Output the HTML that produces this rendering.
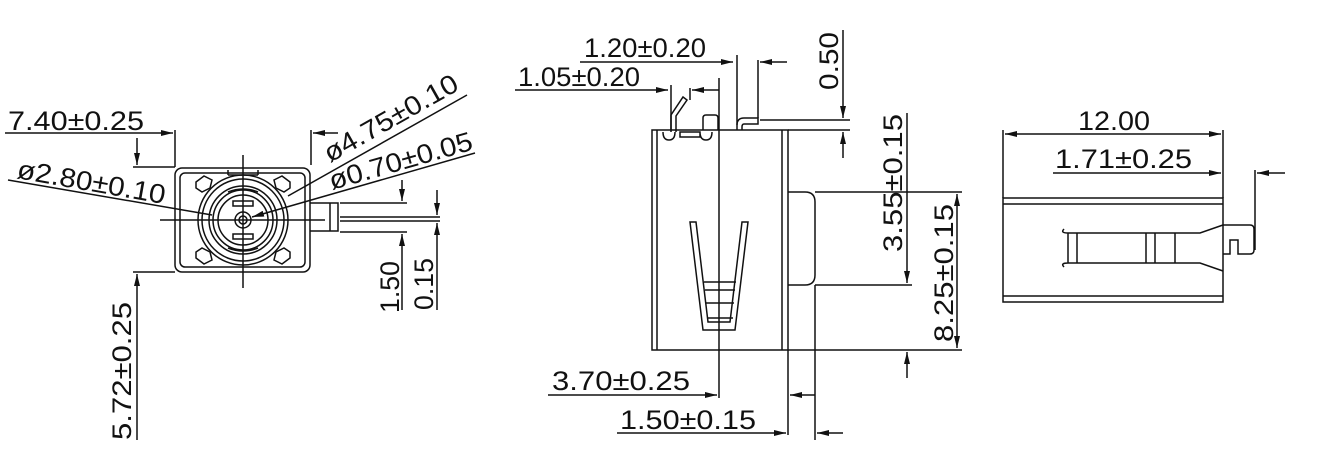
<!DOCTYPE html>
<html><head><meta charset="utf-8"><style>
html,body{margin:0;padding:0;background:#fff;}
svg{display:block}
text{font-family:"Liberation Sans",sans-serif;font-size:27px;fill:#111;}
</style></head><body>
<svg width="1320" height="464" viewBox="0 0 1320 464" xmlns="http://www.w3.org/2000/svg">
<defs>
<marker id="a" viewBox="0 0 12 6" refX="12" refY="3" markerWidth="12" markerHeight="6" markerUnits="userSpaceOnUse" orient="auto"><path d="M0,0L12,3L0,6z" fill="#111"/></marker>
<marker id="b" viewBox="0 0 12 6" refX="0" refY="3" markerWidth="12" markerHeight="6" markerUnits="userSpaceOnUse" orient="auto"><path d="M12,0L0,3L12,6z" fill="#111"/></marker>
</defs>
<g stroke="#111" stroke-width="1.5" fill="none">
<!-- LEFT VIEW -->
<rect x="175" y="168" width="135" height="104" rx="7"/>
<rect x="180" y="173" width="125" height="94" rx="5"/>
<path d="M310,203H338V231H310M330,203V231"/>
<circle cx="243" cy="220" r="45"/>
<circle cx="243" cy="220" r="41"/>
<circle cx="243" cy="220" r="34"/>
<circle cx="243" cy="220" r="30"/>
<circle cx="243" cy="220" r="25"/>
<circle cx="243" cy="220" r="8"/>
<circle cx="243" cy="220" r="4"/>
<path d="M228,175V170M258,175V170M228,175H258"/>
<rect x="233" y="201" width="20" height="5"/>
<rect x="233" y="234" width="20" height="5"/>
<path d="M228,192q15,-6 30,0M228,248q15,6 30,0"/>
<path d="M196,182l8,-6l8,4l-2,8l-8,4l-6,-4z"/>
<path d="M290,182l-8,-6l-8,4l2,8l8,4l6,-4z"/>
<path d="M196,258l8,6l8,-4l-2,-8l-8,-4l-6,4z"/>
<path d="M290,258l-8,6l-8,-4l2,-8l8,-4l6,4z"/>
<path d="M160,220H325M243,155V288"/>
<path d="M340,217H440M340,221H440M340,203H407M340,232H407"/>
<path d="M5,133H173" marker-end="url(#a)"/>
<path d="M175,130V167M311,130V165"/>
<path d="M338,133H313" marker-end="url(#a)"/>
<path d="M137,138V165" marker-end="url(#a)"/>
<path d="M133,167H175M133,272H175"/>
<path d="M137,440V274" marker-end="url(#a)"/>
<path d="M402,180V201" marker-end="url(#a)"/>
<path d="M402,310V234" marker-end="url(#a)"/>
<path d="M437,190V215" marker-end="url(#a)"/>
<path d="M437,310V223" marker-end="url(#a)"/>
<path d="M467,95L288,196"/>
<path d="M475,153L252,217" marker-end="url(#a)"/>
<path d="M8,180L212,215"/>
<!-- MIDDLE VIEW -->
<rect x="652" y="130" width="136" height="220"/>
<path d="M657,130V350M782,130V350"/>
<path d="M788,192H805q10,0 10,10V275q0,10 -10,10H788"/>
<path d="M719,78V398"/>
<path d="M690,222l6,0l12,100l22,0l12,-100l6,0l-13,108l-32,0z"/>
<path d="M704,282H736M705,290H735M706,303H734M707,318H733"/>
<path d="M671,132V115l12,-18l4,3l-11,16V132"/>
<path d="M703,130V118q0,-3 3,-3h9q3,0 3,3V130"/>
<path d="M663,132q0,8 6,8q6,0 6,-8M700,132q0,8 6,8q6,0 6,-8M680,132H700V137H680z"/>
<path d="M737,130V125q0,-7 7,-7H758V124H744q-2,0 -2,3V130"/>
<path d="M580,62H733" marker-end="url(#a)"/>
<path d="M737,55V125M758,60V118"/>
<path d="M787,62H760" marker-end="url(#a)"/>
<path d="M515,90H668" marker-end="url(#a)"/>
<path d="M671,85V130M690,88V100"/>
<path d="M719,90H692" marker-end="url(#a)"/>
<path d="M843,30V118" marker-end="url(#a)"/>
<path d="M760,120H850M788,130H850"/>
<path d="M843,158V132" marker-end="url(#a)"/>
<path d="M907,113V283" marker-end="url(#a)"/>
<path d="M815,285H912M815,192H962M788,350H962"/>
<path d="M957,194V348" marker-start="url(#b)" marker-end="url(#a)"/>
<path d="M907,378V352" marker-end="url(#a)"/>
<path d="M548,395H717" marker-end="url(#a)"/>
<path d="M617,433H786" marker-end="url(#a)"/>
<path d="M788,350V435M815,285V440"/>
<path d="M815,395H790" marker-end="url(#a)"/>
<path d="M843,433H817" marker-end="url(#a)"/>
<!-- RIGHT VIEW -->
<rect x="1003" y="198" width="220" height="104"/>
<path d="M1003,204H1223M1003,296H1223"/>
<path d="M1068,233H1200l23,-8M1068,263H1200l23,8M1068,233q-8,0 -4,-4M1068,263q-8,0 -4,4M1068,233V263M1077,233V263M1146,233V263M1155,233V263M1175,233V263"/>
<path d="M1223,225H1250q4,0 4,4V250q0,4 -4,4H1238V240H1230V254H1223"/>
<path d="M1003,130V198M1223,130V198"/>
<path d="M1005,134H1221" marker-start="url(#b)" marker-end="url(#a)"/>
<path d="M1053,173H1221" marker-end="url(#a)"/>
<path d="M1255,170V250"/>
<path d="M1285,173H1257" marker-end="url(#a)"/>
</g>
<g>
<text x="8" y="130" textLength="136" lengthAdjust="spacingAndGlyphs">7.40±0.25</text>
<text transform="translate(16,178) rotate(10)" textLength="150" lengthAdjust="spacingAndGlyphs">ø2.80±0.10</text>
<text transform="translate(330,163) rotate(-29.5)" textLength="150" lengthAdjust="spacingAndGlyphs">ø4.75±0.10</text>
<text transform="translate(332,190) rotate(-16)" textLength="148" lengthAdjust="spacingAndGlyphs">ø0.70±0.05</text>
<text transform="translate(131,440) rotate(-90)" textLength="138" lengthAdjust="spacingAndGlyphs">5.72±0.25</text>
<text transform="translate(399,313) rotate(-90)" textLength="52" lengthAdjust="spacingAndGlyphs">1.50</text>
<text transform="translate(433,310) rotate(-90)" textLength="52" lengthAdjust="spacingAndGlyphs">0.15</text>
<text x="584" y="57" textLength="122" lengthAdjust="spacingAndGlyphs">1.20±0.20</text>
<text x="518" y="86" textLength="122" lengthAdjust="spacingAndGlyphs">1.05±0.20</text>
<text transform="translate(838,90) rotate(-90)" textLength="58" lengthAdjust="spacingAndGlyphs">0.50</text>
<text transform="translate(902,252) rotate(-90)" textLength="138" lengthAdjust="spacingAndGlyphs">3.55±0.15</text>
<text transform="translate(953,342) rotate(-90)" textLength="138" lengthAdjust="spacingAndGlyphs">8.25±0.15</text>
<text x="552" y="390" textLength="138" lengthAdjust="spacingAndGlyphs">3.70±0.25</text>
<text x="620" y="429" textLength="136" lengthAdjust="spacingAndGlyphs">1.50±0.15</text>
<text x="1078" y="130" textLength="72" lengthAdjust="spacingAndGlyphs">12.00</text>
<text x="1055" y="168" textLength="137" lengthAdjust="spacingAndGlyphs">1.71±0.25</text>
</g>
</svg>
</body></html>
